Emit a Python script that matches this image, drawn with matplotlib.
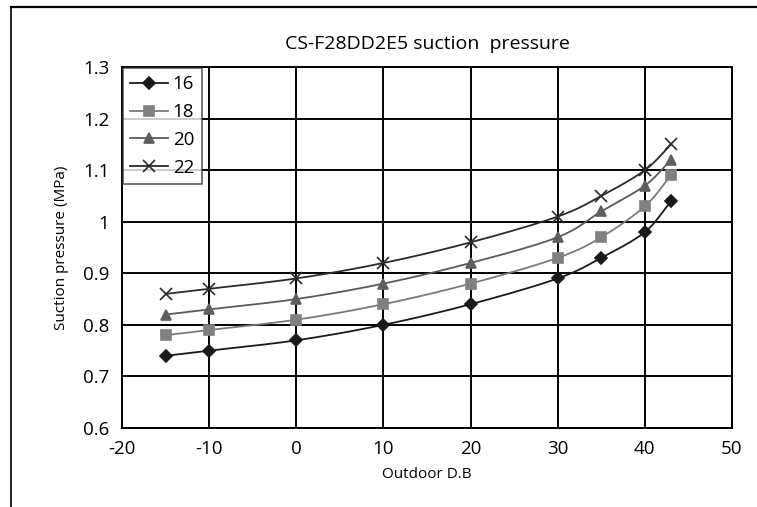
import numpy as np
import matplotlib
matplotlib.use("Agg")
import matplotlib.pyplot as plt
from matplotlib.lines import Line2D

plt.rcParams['font.family'] = ['Open Sans', 'DejaVu Sans']
plt.rcParams['axes.unicode_minus'] = False

outdoor_db = [-15, -10, 0, 10, 20, 30, 35, 40, 43]
series_labels = ["16", "18", "20", "22"]
p16 = [0.74, 0.75, 0.77, 0.80, 0.84, 0.89, 0.93, 0.98, 1.04]
p18 = [0.78, 0.79, 0.81, 0.84, 0.88, 0.93, 0.97, 1.03, 1.09]
p20 = [0.82, 0.83, 0.85, 0.88, 0.92, 0.97, 1.02, 1.07, 1.12]
p22 = [0.86, 0.87, 0.89, 0.92, 0.96, 1.01, 1.05, 1.10, 1.15]
x_ticks = [-20, -10, 0, 10, 20, 30, 40, 50]
y_ticks = [0.6, 0.7, 0.8, 0.9, 1.0, 1.1, 1.2, 1.3]
y_tick_labels = ["0.6", "0.7", "0.8", "0.9", "1", "1.1", "1.2", "1.3"]


def smooth(xs, ys, n=20):
    """Catmull-Rom curve through the points, in the style of smoothed line charts."""
    x = np.asarray(xs, float)
    y = np.asarray(ys, float)
    px = np.concatenate([[2 * x[0] - x[1]], x, [2 * x[-1] - x[-2]]])
    py = np.concatenate([[2 * y[0] - y[1]], y, [2 * y[-1] - y[-2]]])
    ox, oy = [], []
    t = np.linspace(0, 1, n, endpoint=False)
    for i in range(1, len(px) - 2):
        for arr, out in ((px, ox), (py, oy)):
            p0, p1, p2, p3 = arr[i - 1], arr[i], arr[i + 1], arr[i + 2]
            out.extend(0.5 * ((2 * p1) + (-p0 + p2) * t
                              + (2 * p0 - 5 * p1 + 4 * p2 - p3) * t ** 2
                              + (-p0 + 3 * p1 - 3 * p2 + p3) * t ** 3))
    ox.append(x[-1])
    oy.append(y[-1])
    return np.array(ox), np.array(oy)


fig = plt.figure(figsize=(7.57, 5.07), dpi=100)
ax = fig.add_axes([122 / 757, 1 - 428 / 507, 610 / 757, 361 / 507])

styles = [
    (p16, "D", "#1a1a1a", "#1a1a1a", 6),
    (p18, "s", "#7a7a7a", "#808080", 7),
    (p20, "^", "#5a5a5a", "#5e5e5e", 7),
    (p22, "x", "#2a2a2a", "#2a2a2a", 9),
]
handles = []
for (vals, mk, lc, mc, ms), lab in zip(styles, series_labels):
    sx, sy = smooth(outdoor_db, vals)
    ax.plot(sx, sy, color=lc, lw=1.3, zorder=3)
    ax.plot(outdoor_db, vals, ls="none", marker=mk, color=mc, ms=ms,
            mew=1.2, zorder=4)
    handles.append(Line2D([], [], color=lc, lw=1.3, marker=mk, mfc=mc,
                          mec=mc, ms=ms, mew=1.2, label=lab))

ax.set_xlim(-20, 50)
ax.set_ylim(0.6, 1.3)
ax.set_xticks(x_ticks)
ax.set_yticks(y_ticks)
ax.set_yticklabels(y_tick_labels)
ax.grid(True, color="black", lw=1.4)
ax.tick_params(length=0, labelsize=13.5, pad=9)
for s in ax.spines.values():
    s.set_color("black")
    s.set_linewidth(1.4)

ax.set_title("CS-F28DD2E5 suction  pressure", fontsize=14, pad=13)
ax.set_xlabel("Outdoor D.B", fontsize=11, labelpad=6)
ax.set_ylabel("Suction pressure (MPa)", fontsize=11, labelpad=10)

leg = ax.legend(handles=handles, loc="upper left", bbox_to_anchor=(0.0, 1.0),
                frameon=True, fancybox=False, fontsize=13.5, handlelength=2.0,
                borderaxespad=0.05, labelspacing=0.52, handletextpad=0.25,
                borderpad=0.4)
leg.get_frame().set_edgecolor("#333333")
leg.get_frame().set_linewidth(1.2)

# outer frame around the chart area
fig.add_artist(Line2D([11 / 757, 1.0], [1 - 7 / 507] * 2, color="black", lw=1.6))
fig.add_artist(Line2D([11 / 757] * 2, [0.0, 1 - 7 / 507], color="black", lw=1.2))

fig.savefig("out.png", dpi=100)
